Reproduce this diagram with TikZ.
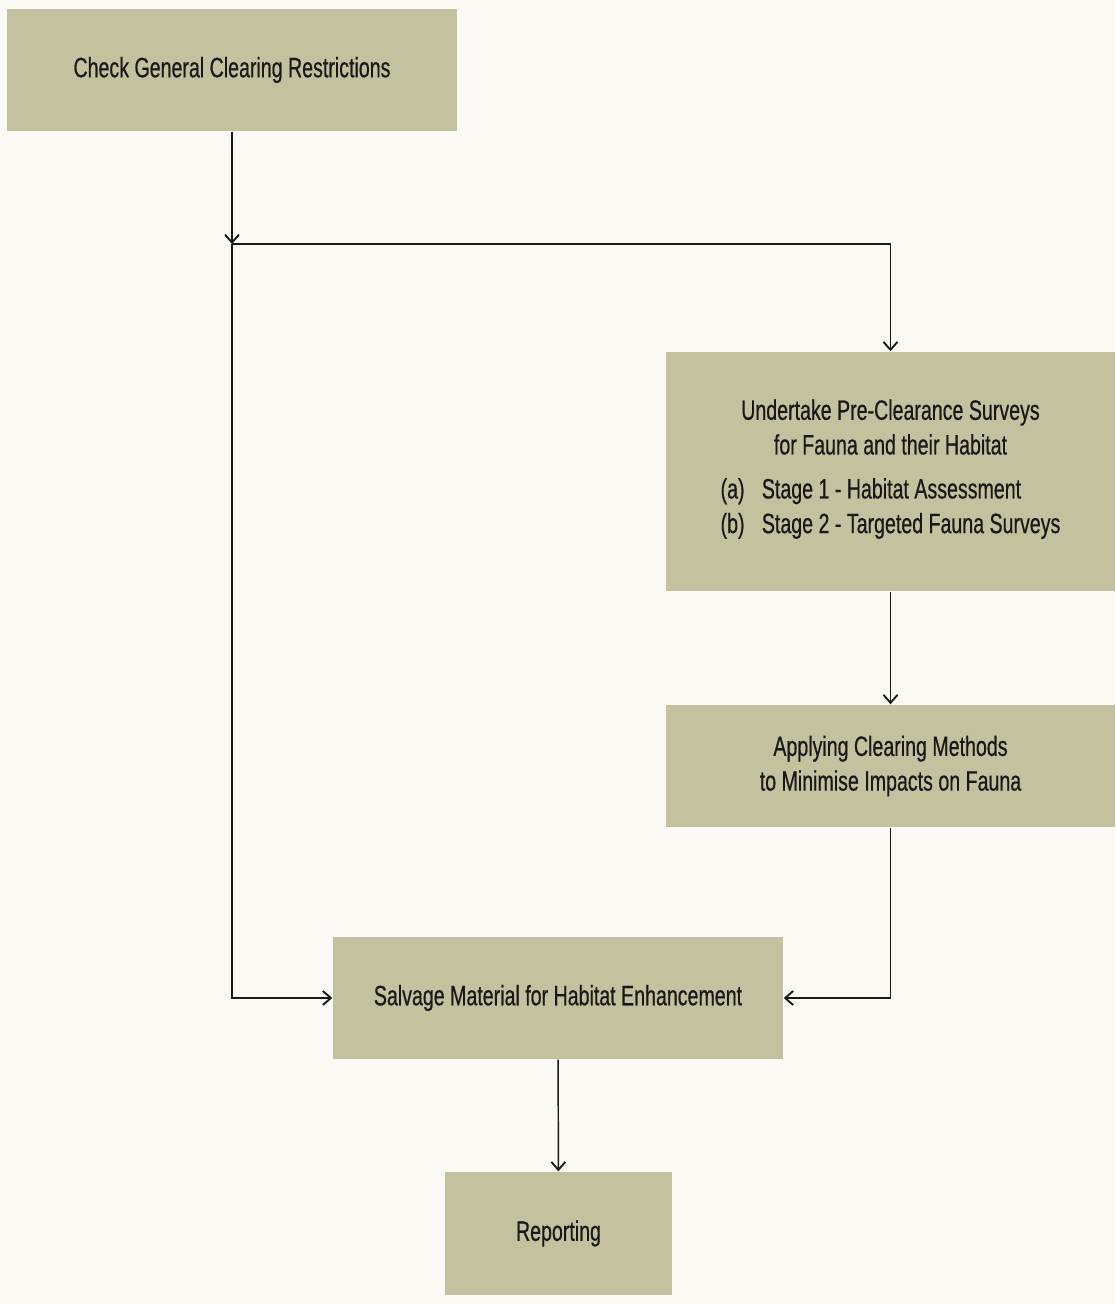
\documentclass[tikz,border=0pt]{standalone}
\usepackage{fontspec}
\setmainfont[FakeStretch=0.7,FakeBold=0.5]{Liberation Sans}
\usetikzlibrary{arrows.meta}

\definecolor{paper}{RGB}{250,249,244}
\definecolor{boxfill}{RGB}{196,194,158}
\definecolor{ink}{RGB}{24,24,24}

\tikzset{every picture/.style={line width=1.1pt}}
\tikzset{
  stepbox/.style={fill=boxfill, draw=none, inner sep=0pt, align=center, text=ink,
    font=\fontsize{21}{26}\selectfont},
  flow/.style={draw=ink, line width=1.1pt,
    -{Straight Barb[length=6pt,width=10.5pt,line width=1.4pt]}}
}

\begin{document}
\begin{tikzpicture}[x=0.75pt,y=0.75pt,yscale=-1,xscale=1]
%set diagram size
\path[fill=paper] (0,0) rectangle (1115,1304);

% Boxes
\node[stepbox, minimum width=337.5pt, minimum height=91.5pt] (check) at (232,70) {Check General Clearing Restrictions};
\node[stepbox, minimum width=336.75pt, minimum height=179.25pt] (survey) at (890.5,471.5) {Undertake Pre-Clearance Surveys\\for Fauna and their Habitat\\[7pt]
  \begin{tabular}[t]{@{}l@{\hspace{13pt}}l@{}}(a)&Stage 1 - Habitat Assessment\\(b)&Stage 2 - Targeted Fauna Surveys\end{tabular}};
\node[stepbox, minimum width=336.75pt, minimum height=91.5pt] (methods) at (890.5,766) {Applying Clearing Methods\\to Minimise Impacts on Fauna};
\node[stepbox, minimum width=337.5pt, minimum height=91.5pt] (salvage) at (558,998) {Salvage Material for Habitat Enhancement};
\node[stepbox, minimum width=170.25pt, minimum height=92.25pt] (report) at (558.5,1233.5) {Reporting};

% Connectors
\coordinate (split) at (232,244);
\draw[flow] (check) -- (split);
\draw[flow] (split) -| (survey);
\draw[flow] (split) |- (salvage);
\draw[flow] (survey) -- (methods);
\draw[flow] (methods) |- (salvage);
\draw[flow] (salvage) -- (report);

\end{tikzpicture}
\end{document}
